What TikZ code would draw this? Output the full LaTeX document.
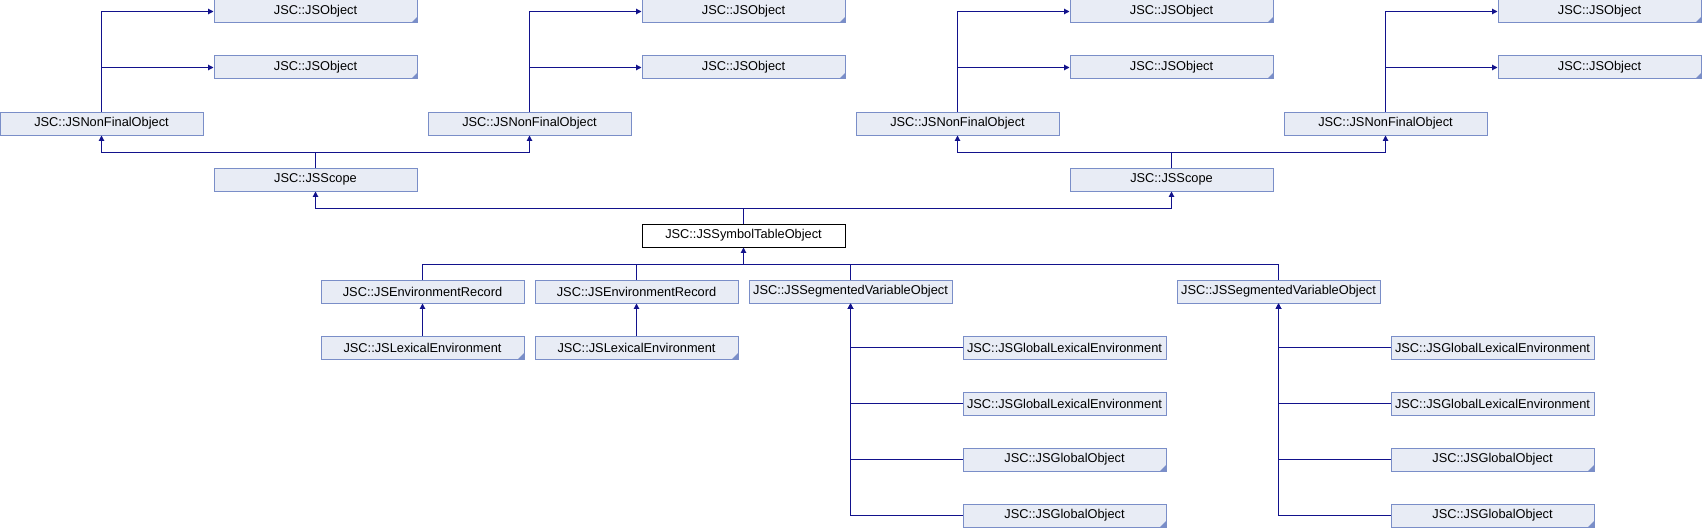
\documentclass[tikz,border=0pt]{standalone}
\usepackage{fontspec}
\setmainfont{Liberation Sans}
\usetikzlibrary{calc,arrows.meta,positioning}

\definecolor{boxfill}{HTML}{E8ECF5}
\definecolor{boxline}{HTML}{7A8EC8}
\definecolor{edgeblue}{HTML}{12128C}

\tikzset{
  cls/.style={draw=boxline, fill=boxfill, line width=0.75pt, inner sep=0pt,
    minimum width=152.25pt, minimum height=17.25pt, font=\fontsize{9.6}{11}\selectfont},
  cur/.style={cls, draw=black, fill=white},
  fold/.style={cls, path picture={
    \fill[boxline] (path picture bounding box.south east) -- ++(-4.5pt,0) -- ++(4.5pt,4.5pt) -- cycle;}},
  edge/.style={draw=edgeblue, line width=0.75pt, -{Triangle[length=4pt,width=4pt]}},
  link/.style={draw=edgeblue, line width=0.75pt}
}

\begin{document}
\begin{tikzpicture}[x=0.75pt,y=-0.75pt]
\useasboundingbox (0,0) rectangle (1702,528);

% top two rows
\node[fold] (ob1a) at (315.5,11.5) {JSC::JSObject};
\node[fold] (ob1b) at (315.5,67.5) {JSC::JSObject};
\node[fold] (ob2a) at (743.5,11.5) {JSC::JSObject};
\node[fold] (ob2b) at (743.5,67.5) {JSC::JSObject};
\node[fold] (ob3a) at (1171.5,11.5) {JSC::JSObject};
\node[fold] (ob3b) at (1171.5,67.5) {JSC::JSObject};
\node[fold] (ob4a) at (1599.5,11.5) {JSC::JSObject};
\node[fold] (ob4b) at (1599.5,67.5) {JSC::JSObject};

\node[cls] (nf1) at (101.5,123.5) {JSC::JSNonFinalObject};
\node[cls] (nf2) at (529.5,123.5) {JSC::JSNonFinalObject};
\node[cls] (nf3) at (957.5,123.5) {JSC::JSNonFinalObject};
\node[cls] (nf4) at (1385.5,123.5) {JSC::JSNonFinalObject};

\node[cls] (sc1) at (315.5,179.5) {JSC::JSScope};
\node[cls] (sc2) at (1171.5,179.5) {JSC::JSScope};

\node[cur] (st) at (743.5,235.5) {JSC::JSSymbolTableObject};

% derived classes
\node[cls] (er1) at (422.5,291.5) {JSC::JSEnvironmentRecord};
\node[cls] (er2) at (636.5,291.5) {JSC::JSEnvironmentRecord};
\node[cls] (sv1) at (850.5,291.5) {JSC::JSSegmentedVariableObject};
\node[cls] (sv2) at (1278.5,291.5) {JSC::JSSegmentedVariableObject};

\node[fold] (le1) at (422.5,347.5) {JSC::JSLexicalEnvironment};
\node[fold] (le2) at (636.5,347.5) {JSC::JSLexicalEnvironment};

\node[cls] (gl1a) at (1064.5,347.5) {JSC::JSGlobalLexicalEnvironment};
\node[cls] (gl1b) at (1064.5,403.5) {JSC::JSGlobalLexicalEnvironment};
\node[fold] (go1a) at (1064.5,459.5) {JSC::JSGlobalObject};
\node[fold] (go1b) at (1064.5,515.5) {JSC::JSGlobalObject};
\node[cls] (gl2a) at (1492.5,347.5) {JSC::JSGlobalLexicalEnvironment};
\node[cls] (gl2b) at (1492.5,403.5) {JSC::JSGlobalLexicalEnvironment};
\node[fold] (go2a) at (1492.5,459.5) {JSC::JSGlobalObject};
\node[fold] (go2b) at (1492.5,515.5) {JSC::JSGlobalObject};

% junctions
\coordinate (j1) at (315.5,152);
\coordinate (j2) at (1171.5,152);
\coordinate (j3) at (743.5,208);
\coordinate (j4) at (743.5,264);

% edges
\foreach \n/\a/\b in {nf1/ob1a/ob1b, nf2/ob2a/ob2b, nf3/ob3a/ob3b, nf4/ob4a/ob4b}{
  \draw[edge] (\n.north) |- (\a.west);
  \draw[edge] (\n.north) |- (\b.west);
}
\draw[link] (sc1.north) -- (j1);
\draw[edge] (j1) -| (nf1.south);
\draw[edge] (j1) -| (nf2.south);
\draw[link] (sc2.north) -- (j2);
\draw[edge] (j2) -| (nf3.south);
\draw[edge] (j2) -| (nf4.south);

\draw[link] (st.north) -- (j3);
\draw[edge] (j3) -| (sc1.south);
\draw[edge] (j3) -| (sc2.south);

\draw[edge] (j4) -- (st.south);
\foreach \c in {er1,er2,sv1,sv2}
  \draw[link] (\c.north) |- (j4);

\draw[edge] (le1.north) -- (er1.south);
\draw[edge] (le2.north) -- (er2.south);

\foreach \c in {gl1a,gl1b,go1a,go1b}
  \draw[edge] (\c.west) -| (sv1.south);
\foreach \c in {gl2a,gl2b,go2a,go2b}
  \draw[edge] (\c.west) -| (sv2.south);

\end{tikzpicture}
\end{document}
